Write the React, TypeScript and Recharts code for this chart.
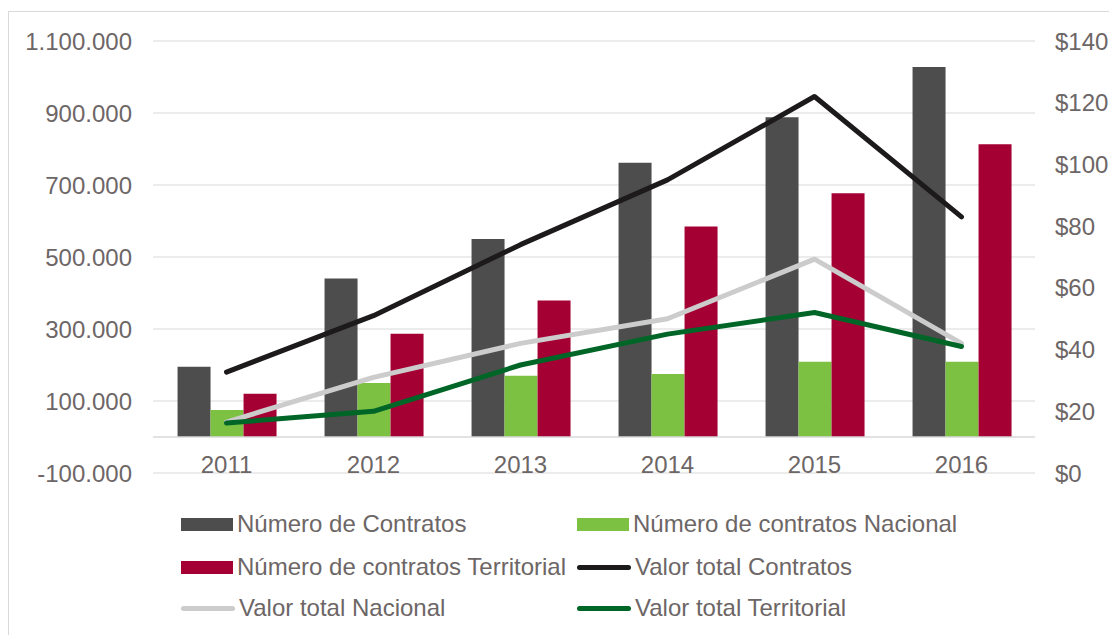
import { Bar, CartesianGrid, ComposedChart, Line, ReferenceLine, XAxis, YAxis } from "recharts";

const years = ["2011", "2012", "2013", "2014", "2015", "2016"];
const numContratos = [195000, 440000, 550000, 762000, 888000, 1028000];
const numNacional = [75000, 150000, 170000, 175000, 209000, 209000];
const numTerritorial = [120000, 287000, 379000, 585000, 677000, 813000];
const valorContratos = [32.7, 51, 74, 95, 122, 83];
const valorNacional = [16.5, 31, 42, 50, 69.3, 42];
const valorTerritorial = [16.2, 20, 35, 45, 52, 41];

const leftTicks = [-100000, 100000, 300000, 500000, 700000, 900000, 1100000];
const rightTicks = [0, 20, 40, 60, 80, 100, 120, 140];

const data = years.map((year, i) => ({
  year,
  numContratos: numContratos[i],
  numNacional: numNacional[i],
  numTerritorial: numTerritorial[i],
  valorContratos: valorContratos[i],
  valorNacional: valorNacional[i],
  valorTerritorial: valorTerritorial[i],
}));

const series = [
  { key: "numContratos", name: "Número de Contratos", color: "#4d4d4d", kind: "bar" },
  { key: "numNacional", name: "Número de contratos Nacional", color: "#7cc142", kind: "bar" },
  { key: "numTerritorial", name: "Número de contratos Territorial", color: "#a50034", kind: "bar" },
  { key: "valorContratos", name: "Valor total Contratos", color: "#1c1a1a", kind: "line" },
  { key: "valorNacional", name: "Valor total Nacional", color: "#cccccc", kind: "line" },
  { key: "valorTerritorial", name: "Valor total Territorial", color: "#006627", kind: "line" },
];

const FONT = "'Liberation Sans', Arial, sans-serif";
const TEXT = "#6d6666";
const GRID = "#d9d9d9";
const FS = 24;

const fmtDots = (v: number) => {
  const s = String(Math.abs(v)).replace(/\B(?=(\d{3})+(?!\d))/g, ".");
  return v < 0 ? `-${s}` : s;
};

const YearTick = (props: any) => {
  const { x, y, payload } = props;
  return (
    <text x={x} y={y - 9} textAnchor="middle" dominantBaseline="central" fill={TEXT} fontSize={FS} fontFamily={FONT}>
      {payload.value}
    </text>
  );
};

export default function App() {
  const bars = series.filter((s) => s.kind === "bar");
  const lines = series.filter((s) => s.kind === "line");
  return (
    <div
      style={{
        position: "relative",
        marginTop: 3,
        width: 1109,
        height: 624,
        borderLeft: `1px solid ${GRID}`,
        borderTop: `1px solid ${GRID}`,
        boxSizing: "border-box",
        fontFamily: FONT,
        overflow: "hidden",
      }}
    >
      <div style={{ position: "absolute", left: 0, top: 0 }}>
        <ComposedChart
          width={1108}
          height={480}
          data={data}
          margin={{ top: 29, right: 0, bottom: 0, left: 0 }}
          barCategoryGap="16.7%"
          barGap={0}
        >
          <CartesianGrid yAxisId="left" stroke={GRID} vertical={false} />
          <XAxis
            dataKey="year"
            axisLine={false}
            tickLine={false}
            tickSize={0}
            tickMargin={0}
            height={19}
            tick={YearTick}
            interval={0}
          />
          <YAxis
            yAxisId="left"
            orientation="left"
            width={144}
            domain={[-100000, 1100000]}
            ticks={leftTicks}
            tickFormatter={fmtDots}
            axisLine={false}
            tickLine={false}
            tickSize={0}
            tickMargin={21}
            tick={{ fill: TEXT, fontSize: FS, fontFamily: FONT }}
            interval={0}
          />
          <YAxis
            yAxisId="right"
            orientation="right"
            width={82}
            domain={[0, 140]}
            ticks={rightTicks}
            tickFormatter={(v) => `$${v}`}
            axisLine={false}
            tickLine={false}
            tickSize={0}
            tickMargin={20}
            tick={{ fill: TEXT, fontSize: FS, fontFamily: FONT, textAnchor: "start" }}
            interval={0}
          />
          <ReferenceLine yAxisId="left" y={0} stroke={GRID} strokeWidth={1.5} />
          {bars.map((s) => (
            <Bar key={s.key} yAxisId="left" dataKey={s.key} name={s.name} fill={s.color} isAnimationActive={false} />
          ))}
          {lines.map((s) => (
            <Line
              key={s.key}
              yAxisId="right"
              dataKey={s.key}
              name={s.name}
              type="linear"
              stroke={s.color}
              strokeWidth={5}
              strokeLinecap="round"
              strokeLinejoin="round"
              dot={false}
              activeDot={false}
              isAnimationActive={false}
            />
          ))}
        </ComposedChart>
      </div>
      {series.map((s, i) => {
        const col = i % 2;
        const row = Math.floor(i / 2);
        const left = col === 0 ? 172 : 568;
        const top = [512, 555, 596][row] - 15;
        return (
          <div
            key={s.key}
            style={{
              position: "absolute",
              left,
              top,
              height: 30,
              display: "flex",
              alignItems: "center",
              whiteSpace: "nowrap",
              color: TEXT,
              fontSize: FS,
            }}
          >
            {s.kind === "bar" ? (
              <span style={{ display: "inline-block", width: 52, height: 13, background: s.color }} />
            ) : (
              <span style={{ display: "inline-block", width: 54, height: 5, borderRadius: 3, background: s.color }} />
            )}
            <span style={{ marginLeft: 4 }}>{s.name}</span>
          </div>
        );
      })}
    </div>
  );
}
